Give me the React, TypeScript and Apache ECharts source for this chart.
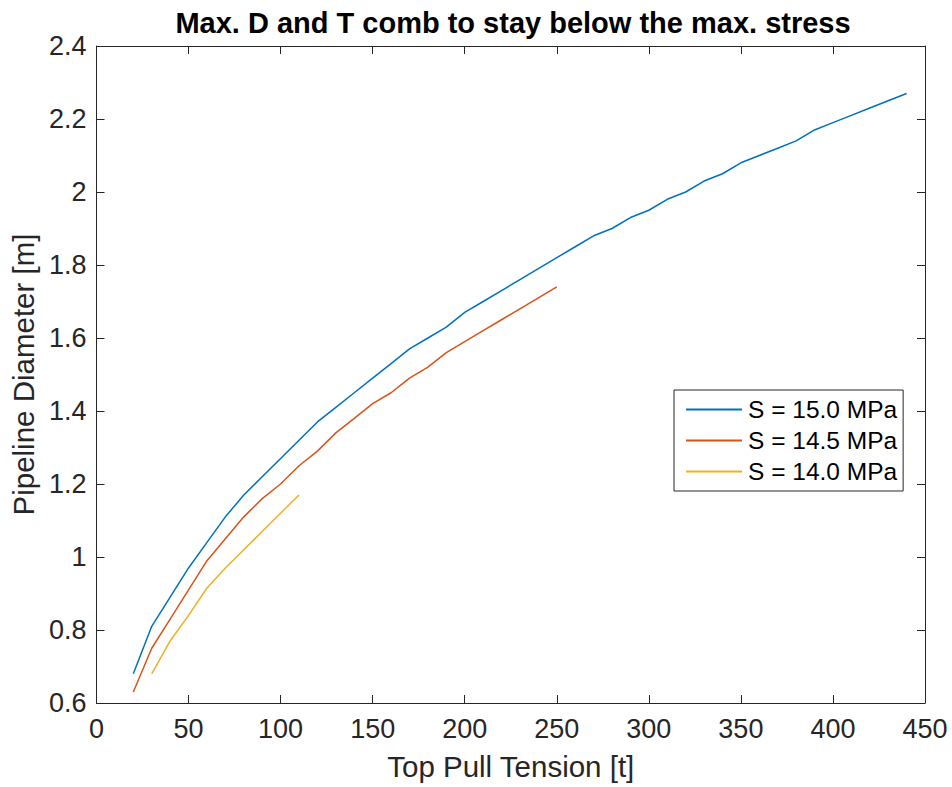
import React, { useEffect, useRef } from "react";
import * as echarts from "echarts";

const tension15 = [20, 30, 40, 50, 60, 70, 80, 90, 100, 110, 120, 130, 140, 150, 160, 170, 180, 190, 200, 210, 220, 230, 240, 250, 260, 270, 280, 290, 300, 310, 320, 330, 340, 350, 360, 370, 380, 390, 400, 410, 420, 430, 440];
const diam15 = [0.68, 0.81, 0.89, 0.97, 1.04, 1.11, 1.17, 1.22, 1.27, 1.32, 1.37, 1.41, 1.45, 1.49, 1.53, 1.57, 1.60, 1.63, 1.67, 1.70, 1.73, 1.76, 1.79, 1.82, 1.85, 1.88, 1.90, 1.93, 1.95, 1.98, 2.00, 2.03, 2.05, 2.08, 2.10, 2.12, 2.14, 2.17, 2.19, 2.21, 2.23, 2.25, 2.27];
const tension145 = [20, 30, 40, 50, 60, 70, 80, 90, 100, 110, 120, 130, 140, 150, 160, 170, 180, 190, 200, 210, 220, 230, 240, 250];
const diam145 = [0.63, 0.75, 0.83, 0.91, 0.99, 1.05, 1.11, 1.16, 1.20, 1.25, 1.29, 1.34, 1.38, 1.42, 1.45, 1.49, 1.52, 1.56, 1.59, 1.62, 1.65, 1.68, 1.71, 1.74];
const tension14 = [30, 40, 50, 60, 70, 80, 90, 100, 110];
const diam14 = [0.68, 0.77, 0.84, 0.915, 0.97, 1.02, 1.07, 1.12, 1.17];

const seriesNames = ["S = 15.0 MPa", "S = 14.5 MPa", "S = 14.0 MPa"];
const colors = ["#0072BD", "#D95319", "#EDB120"];

const titleText = "Max. D and T comb to stay below the max. stress";
const xName = "Top Pull Tension [t]";
const yName = "Pipeline Diameter [m]";

const FONT = "Liberation Sans, Arial, Helvetica, sans-serif";
const AX = "#262626";

function zip(xs: number[], ys: number[]) {
  return xs.map((x, i) => [x, ys[i]]);
}

export default function App() {
  const ref = useRef<HTMLDivElement>(null);
  useEffect(() => {
    if (!ref.current) return;
    const chart = echarts.init(ref.current, null, { renderer: "svg" });
    const baseX = {
      type: "value" as const,
      min: 0,
      max: 450,
      interval: 50,
    };
    const baseY = {
      type: "value" as const,
      min: 0.6,
      max: 2.4,
      interval: 0.2,
    };
    chart.setOption({
      animation: false,
      backgroundColor: "#ffffff",
      textStyle: { fontFamily: FONT },
      title: {
        text: titleText,
        left: 508,
        textAlign: "center",
        top: 3,
        textStyle: { fontFamily: FONT, fontWeight: "bold", fontSize: 29, color: "#000000" },
      },
      grid: { left: 92, right: 27, top: 46, bottom: 84, containLabel: false },
      legend: {
        orient: "vertical",
        left: 674,
        top: 390,
        backgroundColor: "#ffffff",
        borderColor: AX,
        borderWidth: 1,
        borderRadius: 0,
        padding: [7, 6, 7, 12],
        itemGap: 6,
        itemWidth: 56,
        itemHeight: 2,
        icon: "rect",
        data: seriesNames,
        textStyle: { fontFamily: FONT, fontSize: 24.5, color: "#000000", padding: [0, 0, 0, 1] },
      },
      xAxis: [
        {
          ...baseX,
          position: "bottom",
          name: xName,
          nameLocation: "middle",
          nameGap: 48,
          nameTextStyle: { fontFamily: FONT, fontSize: 29.5, color: AX },
          axisLine: { show: true, onZero: false, lineStyle: { color: AX, width: 1 } },
          axisTick: { show: true, inside: true, length: 8, lineStyle: { color: AX } },
          axisLabel: { fontFamily: FONT, fontSize: 27, color: AX, margin: 12 },
          splitLine: { show: false },
        },
        {
          ...baseX,
          position: "top",
          axisLine: { show: true, onZero: false, lineStyle: { color: AX, width: 1 } },
          axisTick: { show: true, inside: true, length: 8, lineStyle: { color: AX } },
          axisLabel: { show: false },
          splitLine: { show: false },
        },
      ],
      yAxis: [
        {
          ...baseY,
          position: "left",
          name: yName,
          nameLocation: "middle",
          nameGap: 58.5,
          nameTextStyle: { fontFamily: FONT, fontSize: 29.5, color: AX },
          axisLine: { show: true, onZero: false, lineStyle: { color: AX, width: 1 } },
          axisTick: { show: true, inside: true, length: 8, lineStyle: { color: AX } },
          axisLabel: { fontFamily: FONT, fontSize: 27, color: AX, margin: 10 },
          splitLine: { show: false },
        },
        {
          ...baseY,
          position: "right",
          axisLine: { show: true, onZero: false, lineStyle: { color: AX, width: 1 } },
          axisTick: { show: true, inside: true, length: 8, lineStyle: { color: AX } },
          axisLabel: { show: false },
          splitLine: { show: false },
        },
      ],
      series: [
        { name: seriesNames[0], type: "line", data: zip(tension15, diam15), color: colors[0], showSymbol: false, lineStyle: { width: 1.5, color: colors[0] } },
        { name: seriesNames[1], type: "line", data: zip(tension145, diam145), color: colors[1], showSymbol: false, lineStyle: { width: 1.5, color: colors[1] } },
        { name: seriesNames[2], type: "line", data: zip(tension14, diam14), color: colors[2], showSymbol: false, lineStyle: { width: 1.5, color: colors[2] } },
      ],
    });
    return () => chart.dispose();
  }, []);
  return <div ref={ref} style={{ width: 952, height: 787, position: "absolute", left: 0, top: 0 }} />;
}
